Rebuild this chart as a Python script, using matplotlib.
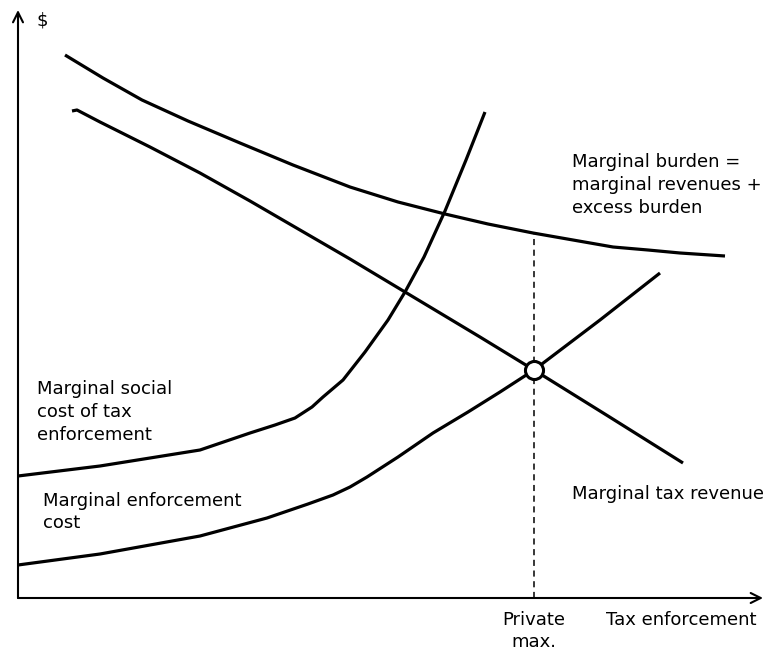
import matplotlib.pyplot as plt

# Curves (x = tax enforcement, y = $)
burden_x = [47, 85, 124, 170, 222, 275, 332, 380, 427, 470, 515, 555, 595, 630, 662, 707]
burden_y = [543, 520, 498, 477, 455, 433, 411, 396, 384, 374, 365, 358, 351, 348, 345, 342]

revenue_x = [54, 59, 82, 132, 182, 232, 282, 332, 387, 462, 516, 590, 665]
revenue_y = [487, 488, 476, 451, 425, 397, 368, 339, 306, 261, 228, 182, 135]

social_x = [0, 82, 182, 232, 257, 277, 294, 305, 325, 347, 370, 387, 406, 427, 448, 467]
social_y = [122, 132, 148, 165, 173, 180, 191, 201, 218, 246, 278, 306, 341, 387, 438, 486]

enforce_x = [0, 82, 182, 249, 290, 315, 332, 349, 380, 415, 450, 482, 516, 582, 642]
enforce_y = [33, 44, 62, 80, 94, 103, 111, 121, 141, 165, 186, 206, 228, 278, 325]

private_max = 516
private_max_y = 228
burden_at_max = 365

fig = plt.figure(figsize=(7.68, 6.55), dpi=100)
ax = fig.add_axes([0, 0, 1, 1])
ax.set_xlim(-18, 750)
ax.set_ylim(-57, 598)
ax.axis('off')

lw = 2.3
for xs, ys in [(burden_x, burden_y), (revenue_x, revenue_y),
               (social_x, social_y), (enforce_x, enforce_y)]:
    ax.plot(xs, ys, color='black', lw=lw, solid_capstyle='butt',
            solid_joinstyle='round')

# dashed line down from the equilibrium
ax.plot([private_max, private_max], [0, burden_at_max], color='black',
        lw=1.1, ls=(0, (4, 3)))
ax.plot(private_max, private_max_y, 'o', markersize=13, markerfacecolor='white',
        markeredgecolor='black', markeredgewidth=2.2, zorder=5)

# axes with open arrow heads
ax.annotate('', xy=(0, 588), xytext=(0, 0),
            arrowprops=dict(arrowstyle='->', lw=1.5, color='black',
                            mutation_scale=18, shrinkA=0, shrinkB=0))
ax.annotate('', xy=(745, 0), xytext=(0, 0),
            arrowprops=dict(arrowstyle='->', lw=1.5, color='black',
                            mutation_scale=18, shrinkA=0, shrinkB=0))

fs = 13
ls = 1.35
ax.text(19, 578, '$', fontsize=fs, va='center')
ax.text(554, 413, 'Marginal burden =\nmarginal revenues +\nexcess burden',
        fontsize=fs, va='center', linespacing=ls)
ax.text(19, 186, 'Marginal social\ncost of tax\nenforcement',
        fontsize=fs, va='center', linespacing=ls)
ax.text(25, 86, 'Marginal enforcement\ncost', fontsize=fs, va='center',
        linespacing=ls)
ax.text(554, 104, 'Marginal tax revenue', fontsize=fs, va='center')
ax.text(private_max, -33, 'Private\nmax.', fontsize=fs, va='center',
        ha='center', linespacing=ls)
ax.text(588, -22, 'Tax enforcement', fontsize=fs, va='center')

fig.savefig('out.png', dpi=100)
